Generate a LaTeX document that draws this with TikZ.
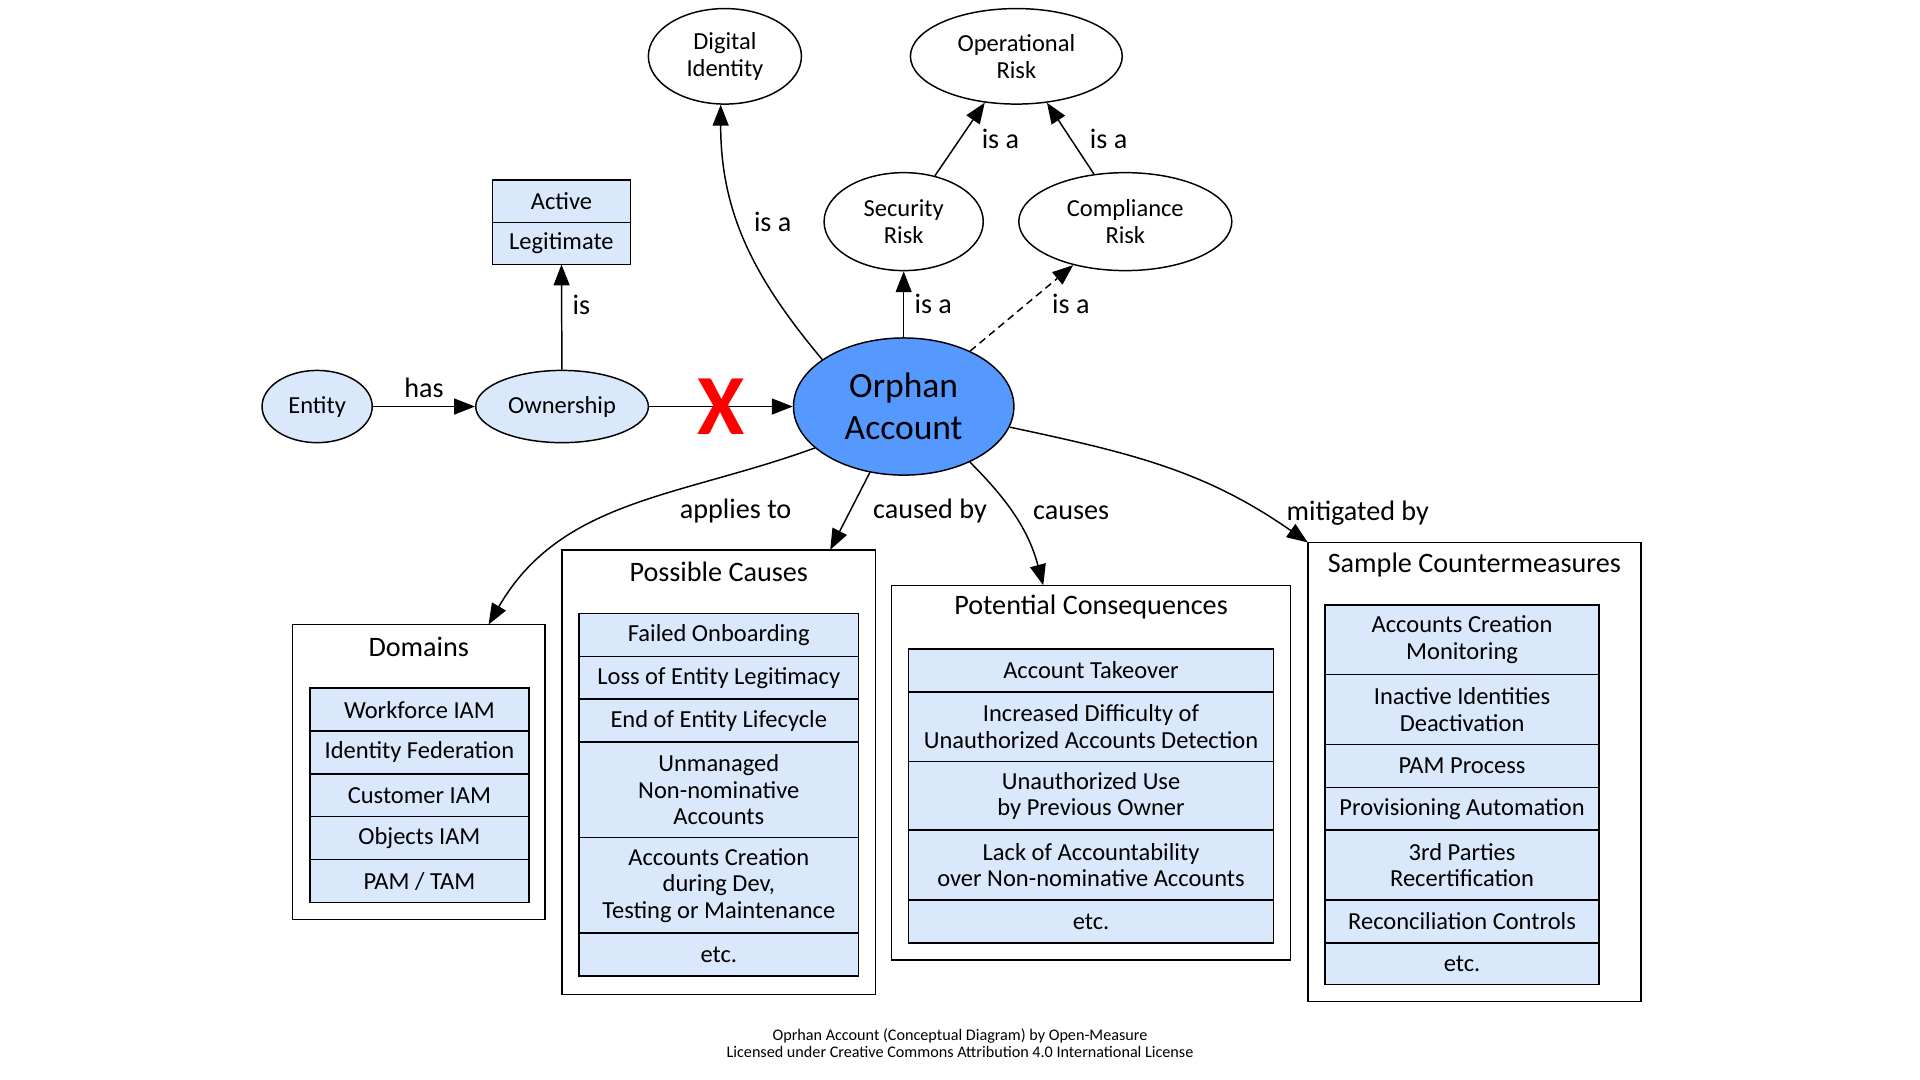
\documentclass[tikz,border=0pt]{standalone}
\usepackage{fontspec}
\setmainfont{Carlito}
\usepackage{tikz}
\usetikzlibrary{positioning}
\usetikzlibrary{%
  shapes.geometric,%
  arrows.meta%
}
\definecolor{paleblue}{RGB}{218,232,252}
\definecolor{orphanblue}{RGB}{85,153,255}

\begin{document}
\begin{tikzpicture}[x=1pt,y=1pt,line width=1.2pt,
  >={Triangle[length=17pt,width=13pt]},
  oval/.style={draw,ellipse,inner sep=0pt,align=center,font=\fontsize{20}{22}\selectfont},
  cell/.style={draw,fill=paleblue,inner sep=0pt,outer sep=0pt,minimum height=35pt,align=center,font=\fontsize{20}{21.5}\selectfont},
  cluster/.style={draw,inner sep=0pt,outer sep=0pt},
  lbl/.style={font=\fontsize{23}{25}\selectfont}]
\useasboundingbox (0,0) rectangle (1568,-882);

\node[oval,fill=paleblue,minimum width=90pt,minimum height=59pt] (entity) at (259,-332) {Entity};
\node[oval,fill=paleblue,minimum width=141pt,minimum height=59pt] (own) at (459,-332) {Ownership};
\node[oval,fill=orphanblue,minimum width=180pt,minimum height=112pt,font=\fontsize{29}{34}\selectfont] (orphan) at (738,-332) {Orphan\\Account};
\node[oval,minimum width=125pt,minimum height=78pt] (digital) at (592,-46) {Digital\\Identity};
\node[oval,minimum width=173pt,minimum height=78pt] (oprisk) at (830,-46) {Operational\\Risk};
\node[oval,minimum width=130pt,minimum height=80pt] (secrisk) at (738,-181) {Security\\Risk};
\node[oval,minimum width=174pt,minimum height=80pt] (comprisk) at (919,-181) {Compliance\\Risk};

\node[cell,minimum width=113pt,minimum height=34.5pt,anchor=north] (active) at (458.5,-147) {Active};
\node[cell,minimum width=113pt,minimum height=34.5pt,below=0pt of active] (legit) {Legitimate};

% domains
\node[cluster,minimum width=206pt,minimum height=241pt] (domains) at (342,-630.5) {};
\node[lbl] (domtitle) at (342,-528) {Domains};
\foreach \t [count=\i] in {Workforce IAM,Identity Federation,Customer IAM,Objects IAM,PAM / TAM}
  \node[cell,minimum width=179pt] (dom\i) at (342.5,{-544.5-35*\i}) {\t};

% possible causes
\node[cluster,minimum width=256pt,minimum height=363pt] (causes) at (587,-630.5) {};
\node[lbl] (causetitle) at (587,-467) {Possible Causes};
\node[cell,minimum width=228pt,anchor=north] (cause1) at (587,-501) {Failed Onboarding};
\node[cell,minimum width=228pt,below=0pt of cause1] (cause2) {Loss of Entity Legitimacy};
\node[cell,minimum width=228pt,below=0pt of cause2] (cause3) {End of Entity Lifecycle};
\node[cell,minimum width=228pt,minimum height=78pt,below=0pt of cause3] (cause4) {Unmanaged\\Non-nominative\\Accounts};
\node[cell,minimum width=228pt,minimum height=78pt,below=0pt of cause4] (cause5) {Accounts Creation\\during Dev,\\Testing or Maintenance};
\node[cell,minimum width=228pt,below=0pt of cause5] (cause6) {etc.};

% potential consequences
\node[cluster,minimum width=326pt,minimum height=306pt] (conseq) at (891,-631) {};
\node[lbl] (conseqtitle) at (891,-496) {Potential Consequences};
\node[cell,minimum width=298pt,anchor=north] (cons1) at (891,-530) {Account Takeover};
\node[cell,minimum width=298pt,minimum height=57pt,below=0pt of cons1] (cons2) {Increased Difficulty of\\Unauthorized Accounts Detection};
\node[cell,minimum width=298pt,minimum height=56pt,below=0pt of cons2] (cons3) {Unauthorized Use\\by Previous Owner};
\node[cell,minimum width=298pt,minimum height=57pt,below=0pt of cons3] (cons4) {Lack of Accountability\\over Non-nominative Accounts};
\node[cell,minimum width=298pt,below=0pt of cons4] (cons5) {etc.};

% sample countermeasures
\node[cluster,minimum width=272pt,minimum height=375pt] (counter) at (1204,-630.5) {};
\node[lbl] (countertitle) at (1204,-461) {Sample Countermeasures};
\node[cell,minimum width=224pt,minimum height=57pt,anchor=north] (cm1) at (1194,-494) {Accounts Creation\\Monitoring};
\node[cell,minimum width=224pt,minimum height=57pt,below=0pt of cm1] (cm2) {Inactive Identities\\Deactivation};
\node[cell,minimum width=224pt,below=0pt of cm2] (cm3) {PAM Process};
\node[cell,minimum width=224pt,below=0pt of cm3] (cm4) {Provisioning Automation};
\node[cell,minimum width=224pt,minimum height=57pt,below=0pt of cm4] (cm5) {3rd Parties\\Recertification};
\node[cell,minimum width=224pt,below=0pt of cm5] (cm6) {Reconciliation Controls};
\node[cell,minimum width=224pt,minimum height=34pt,below=0pt of cm6] (cm7) {etc.};

\draw[->] (entity) -- (own) node[midway,above=3pt,lbl]{has};
\draw[->] (own) -- (legit) node[pos=.62,right=5pt,lbl]{is};
\draw[->] (own) -- (orphan) node[midway,text=red,font=\fontsize{70}{70}\selectfont\bfseries]{X};
\draw[->] (orphan.150) to[out=130,in=-90] node[pos=.58,right=9pt,lbl]{is a} (digital.265);
\draw[->] (orphan) -- (secrisk) node[midway,right=5pt,lbl]{is a};
\draw[->,dash pattern=on 6pt off 4pt] (orphan) -- (comprisk) node[midway,right=21pt,yshift=3pt,lbl]{is a};
\draw[->] (secrisk) -- (oprisk) node[midway,right=14pt,lbl]{is a};
\draw[->] (comprisk) -- (oprisk) node[midway,right=12pt,lbl]{is a};
\draw[->] (orphan.205) to[out=200,in=60] node[pos=.2,below=17pt,lbl]{applies to} ([xshift=57pt]domains.north);
\draw[->] (orphan) -- ([xshift=91pt]causes.north) node[midway,right=15pt,lbl]{caused by};
\draw[->] (orphan.-40) to[out=-45,in=105] node[pos=.45,right=13pt,lbl]{causes} ([xshift=-39pt]conseq.north);
\draw[->] (orphan.-11) to[out=-12,in=145] node[pos=.85,right=15pt,lbl]{mitigated by} (counter.north west);

\node[align=center,font=\fontsize{13.2}{14.5}\selectfont] (credit) at (784,-852) {Oprhan Account (Conceptual Diagram) by Open-Measure\\Licensed under Creative Commons Attribution 4.0 International License};
\end{tikzpicture}
\end{document}
